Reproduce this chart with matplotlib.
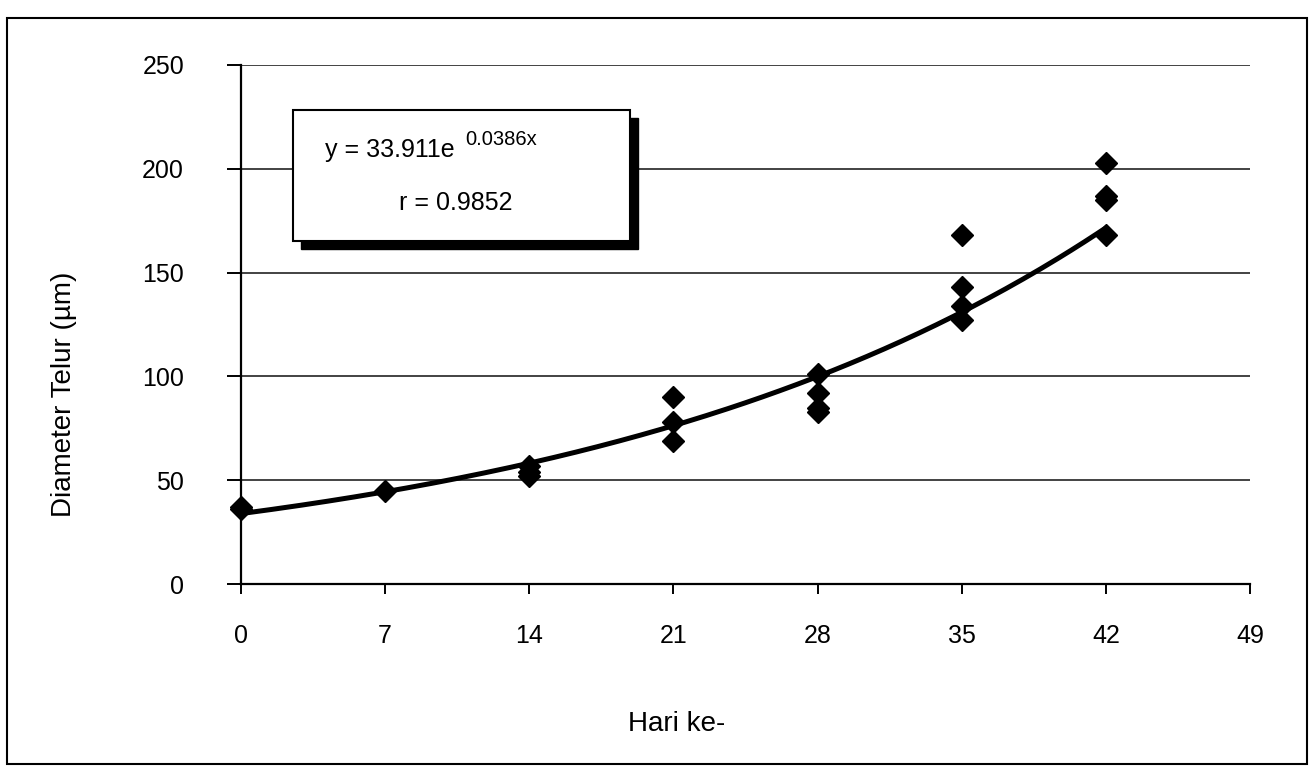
import matplotlib.pyplot as plt
from matplotlib.patches import Rectangle
import numpy as np

plt.rcParams["font.family"] = ["Liberation Sans", "DejaVu Sans"]

# data (day, egg diameter in micrometres)
days = [0, 0, 7, 14, 14, 14, 21, 21, 21, 28, 28, 28, 28,
        35, 35, 35, 35, 42, 42, 42, 42]
diameter = [36, 37, 45, 57, 54, 52, 90, 78, 69, 101, 92, 85, 83,
            168, 143, 134, 127, 203, 187, 185, 168]

# exponential trendline shown on the chart
coef_a = 33.911
coef_b = 0.0386
r_value = 0.9852

x_ticks = [0, 7, 14, 21, 28, 35, 42, 49]
y_ticks = [0, 50, 100, 150, 200, 250]

fig = plt.figure(figsize=(13.09, 7.68), dpi=100)
ax = fig.add_axes([241 / 1309, 1 - 584 / 768, 1009 / 1309, 519 / 768])

# outer chart frame
fig.patches.append(Rectangle((7 / 1309, 4 / 768), 1300 / 1309, 746 / 768,
                             transform=fig.transFigure, fill=False,
                             edgecolor="black", linewidth=1.5))

# horizontal gridlines
for yv in y_ticks[1:]:
    ax.axhline(yv, color="#222222", linewidth=1.2, zorder=1)

xfit = np.linspace(0, 42, 200)
ax.plot(xfit, coef_a * np.exp(coef_b * xfit), color="black", linewidth=3.6,
        zorder=3, clip_on=False)
ax.plot(days, diameter, linestyle="none", marker="D", markersize=11,
        color="black", zorder=4, clip_on=False)

ax.set_xlim(0, 49)
ax.set_ylim(0, 250)
ax.set_xticks(x_ticks)
ax.set_yticks(y_ticks)
ax.spines["top"].set_visible(False)
ax.spines["right"].set_visible(False)
ax.spines["left"].set_linewidth(1.6)
ax.spines["bottom"].set_linewidth(1.6)
ax.tick_params(axis="y", direction="out", length=10, width=1.4, pad=31,
               labelsize=18)
ax.tick_params(axis="x", direction="out", length=7, width=1.4, pad=22,
               labelsize=18)

ax.set_xlabel("Hari ke-", fontsize=20)
ax.xaxis.set_label_coords(0.432, -0.245)
ax.set_ylabel("Diameter Telur (\u00b5m)", fontsize=20)
ax.yaxis.set_label_coords(-0.163, 0.366)

# equation box with drop shadow
fig.patches.append(Rectangle((301 / 1309, 1 - 249 / 768), 337 / 1309, 131 / 768,
                             transform=fig.transFigure, facecolor="black",
                             edgecolor="black", zorder=5))
fig.patches.append(Rectangle((293 / 1309, 1 - 241 / 768), 337 / 1309, 131 / 768,
                             transform=fig.transFigure, facecolor="white",
                             edgecolor="black", linewidth=1.5, zorder=6))
fig.text(325 / 1309, 1 - 157 / 768, "y = %.3fe" % coef_a,
         fontsize=18, ha="left", va="baseline", zorder=7)
fig.text(465 / 1309, 1 - 145 / 768, "%.4fx" % coef_b,
         fontsize=14.5, ha="left", va="baseline", zorder=7)
fig.text(456 / 1309, 1 - 210 / 768, "r = %.4f" % r_value,
         fontsize=18, ha="center", va="baseline", zorder=7)

plt.savefig("out.png", dpi=100)
